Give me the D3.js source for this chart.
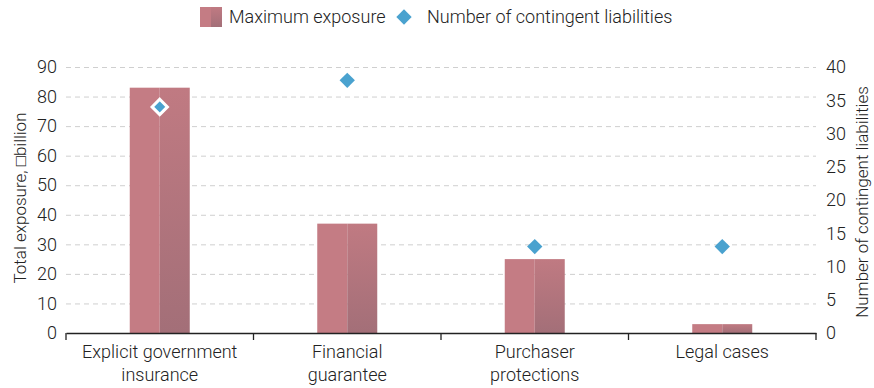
<!DOCTYPE html>
<html>
<head>
<meta charset="utf-8">
<script src="https://cdn.jsdelivr.net/npm/d3@7"></script>
<style>
  body { margin: 0; background: #fff; }
  svg text { font-family: Roboto, "Liberation Sans", sans-serif; font-weight: 300; fill: #222; }
  .grid line { stroke: #cfcfcf; stroke-dasharray: 5,4; }
  .grid path { display: none; }
</style>
</head>
<body>
<div id="chart"></div>
<script>
// data
var categories = ["Explicit government|insurance", "Financial|guarantee", "Purchaser|protections", "Legal cases"];
var exposure = [83, 37, 25, 3];
var liabilities = [34, 38, 13, 13];
var leftTicks = [0, 10, 20, 30, 40, 50, 60, 70, 80, 90];
var rightTicks = [0, 5, 10, 15, 20, 25, 30, 35, 40];

var W = 874, H = 388;
var margin = {top: 67, right: 58, bottom: 55, left: 66};
var width = W - margin.left - margin.right;
var height = H - margin.top - margin.bottom;

var svg = d3.select("#chart").append("svg")
    .attr("width", W)
    .attr("height", H);

// bar gradient (right half darkens towards bottom)
var defs = svg.append("defs");
var grad = defs.append("linearGradient")
    .attr("id", "barShade")
    .attr("x1", 0).attr("y1", 0).attr("x2", 0).attr("y2", 1);
grad.append("stop").attr("offset", "0%").attr("stop-color", "#c07a82");
grad.append("stop").attr("offset", "100%").attr("stop-color", "#a36f78");

var g = svg.append("g").attr("transform", "translate(" + margin.left + "," + margin.top + ")");

var x = d3.scaleBand().domain(categories).range([0, width]);
var yL = d3.scaleLinear().domain([0, 90]).range([height, 0]);
var yR = d3.scaleLinear().domain([0, 40]).range([height, 0]);

// gridlines
g.append("g")
    .attr("class", "grid")
    .call(d3.axisLeft(yL).tickValues(leftTicks.slice(1)).tickSize(-width).tickFormat(""));

// left axis labels
var leftAxis = g.append("g")
    .call(d3.axisLeft(yL).tickValues(leftTicks).tickSize(0).tickPadding(9));
leftAxis.select(".domain").remove();
leftAxis.selectAll("text").style("font-size", "18px");

// right axis labels
var rightAxis = g.append("g")
    .attr("transform", "translate(" + width + ",0)")
    .call(d3.axisRight(yR).tickValues(rightTicks).tickSize(0).tickPadding(10));
rightAxis.select(".domain").remove();
rightAxis.selectAll("text").style("font-size", "18px");

// bars
var barW = 60;
var bars = g.selectAll(".bar").data(exposure).enter().append("g").attr("class", "bar");
bars.append("rect")
    .attr("x", function(d, i) { return x(categories[i]) + x.bandwidth() / 2 - barW / 2; })
    .attr("y", function(d) { return yL(d); })
    .attr("width", barW / 2)
    .attr("height", function(d) { return height - yL(d); })
    .attr("fill", "#c47c84");
bars.append("rect")
    .attr("x", function(d, i) { return x(categories[i]) + x.bandwidth() / 2; })
    .attr("y", function(d) { return yL(d); })
    .attr("width", barW / 2)
    .attr("height", function(d) { return height - yL(d); })
    .attr("fill", "url(#barShade)");

// x axis
var xAxis = g.append("g")
    .attr("transform", "translate(0," + height + ")")
    .call(d3.axisBottom(x).tickSize(0).tickFormat(""));
xAxis.select(".domain").attr("stroke", "#222").attr("stroke-width", 1.3);
var tickPos = d3.range(categories.length + 1).map(function(i) { return i * x.bandwidth(); });
xAxis.selectAll(".sep").data(tickPos).enter().append("line")
    .attr("x1", function(d) { return d; }).attr("x2", function(d) { return d; })
    .attr("y1", 0).attr("y2", 7)
    .attr("stroke", "#222").attr("stroke-width", 1.3);

// category labels
categories.forEach(function(c) {
    var lines = c.split("|");
    var t = g.append("text")
        .attr("x", x(c) + x.bandwidth() / 2)
        .attr("y", height + 25)
        .attr("text-anchor", "middle")
        .style("font-size", "18px");
    lines.forEach(function(l, j) {
        t.append("tspan").attr("x", x(c) + x.bandwidth() / 2).attr("dy", j ? 23 : 0).text(l);
    });
});

// diamonds
var diamond = d3.symbol().type(d3.symbolDiamond2).size(150);
g.selectAll(".pt").data(liabilities).enter().append("path")
    .attr("class", "pt")
    .attr("d", diamond)
    .attr("transform", function(d, i) {
        return "translate(" + (x(categories[i]) + x.bandwidth() / 2) + "," + yR(d) + ")";
    })
    .attr("fill", "#4aa2cf")
    .attr("stroke", function(d, i) { return i === 0 ? "#fff" : "none"; })
    .attr("stroke-width", 3);

// axis titles
svg.append("text")
    .attr("transform", "translate(26,198) rotate(-90)")
    .attr("text-anchor", "middle")
    .style("font-size", "17px")
    .text("Total exposure, \u25A1billion");
svg.append("text")
    .attr("transform", "translate(868,202) rotate(-90)")
    .attr("text-anchor", "middle")
    .style("font-size", "17px")
    .text("Number of contingent liabilities");

// legend
var leg = svg.append("g");
leg.append("rect").attr("x", 200).attr("y", 7).attr("width", 11).attr("height", 20).attr("fill", "#c47c84");
leg.append("rect").attr("x", 211).attr("y", 7).attr("width", 11).attr("height", 20).attr("fill", "url(#barShade)");
leg.append("text").attr("x", 229).attr("y", 23).style("font-size", "18px").text("Maximum exposure");
leg.append("path").attr("d", diamond).attr("transform", "translate(404,17)").attr("fill", "#4aa2cf");
leg.append("text").attr("x", 427).attr("y", 23).style("font-size", "18px").text("Number of contingent liabilities");
</script>
</body>
</html>
